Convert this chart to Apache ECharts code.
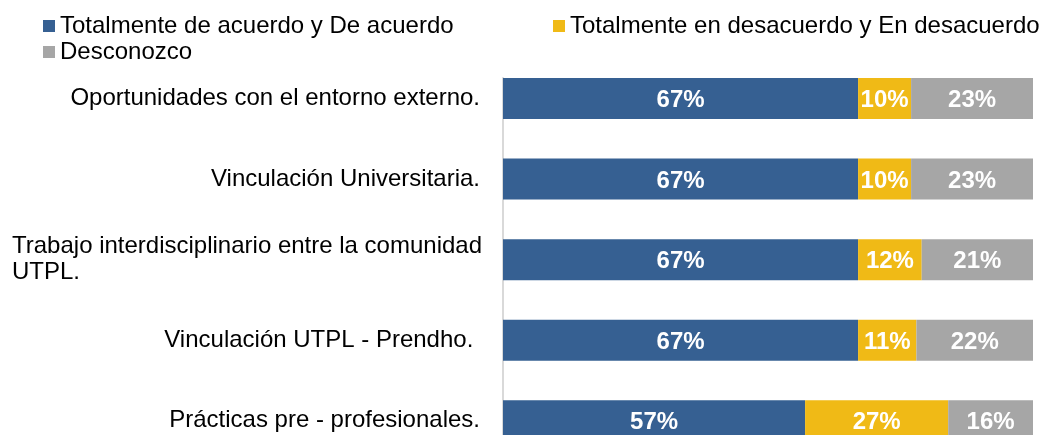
<!DOCTYPE html>
<html>
<head>
<meta charset="utf-8">
<script src="https://cdn.jsdelivr.net/npm/echarts@6/dist/echarts.min.js"></script>
<style>
html,body{margin:0;padding:0;background:#fff;overflow:hidden;}
#wrap{width:1045px;height:435px;overflow:hidden;}
#chart{width:1045px;height:461px;}
</style>
</head>
<body>
<div id="wrap"><div id="chart"></div></div>
<script>
const categories = [
  "Oportunidades con el entorno externo.",
  "Vinculación Universitaria.",
  "Trabajo interdisciplinario entre la comunidad\nUTPL.",
  "Vinculación UTPL - Prendho. ",
  "Prácticas pre - profesionales."
];
const seriesNames = [
  "Totalmente de acuerdo y De acuerdo",
  "Totalmente en desacuerdo y En desacuerdo",
  "Desconozco"
];
const acuerdo = [67, 67, 67, 67, 57];
const desacuerdo = [10, 10, 12, 11, 27];
const desconozco = [23, 23, 21, 22, 16];
const colors = ["#366092", "#F0BA16", "#A6A6A6"];

const FONT = "Liberation Sans, Arial, sans-serif";
const chart = echarts.init(document.getElementById('chart'), null, {renderer: 'canvas'});

const labelStyle = {
  show: true,
  position: 'inside',
  formatter: '{c}%',
  color: '#fff',
  fontWeight: 'bold',
  fontFamily: FONT,
  fontSize: 24,
  offset: [0, 2]
};

function mkSeries(name, data, color) {
  return {
    name: name,
    type: 'bar',
    stack: 'total',
    data: data,
    barWidth: 41,
    itemStyle: {color: color},
    label: labelStyle,
    xAxisIndex: 0,
    yAxisIndex: 0
  };
}

const legendText = {fontFamily: FONT, fontSize: 24, color: '#000'};
const legendCommon = {
  padding: 0, itemWidth: 12, itemHeight: 12, icon: 'rect',
  textStyle: legendText, selectedMode: false
};

chart.setOption({
  animation: false,
  color: colors,
  legend: [
    Object.assign({data: [seriesNames[0]], left: 43, top: 14}, legendCommon),
    Object.assign({data: [seriesNames[1]], left: 553, top: 14}, legendCommon),
    Object.assign({data: [seriesNames[2]], left: 43, top: 40}, legendCommon)
  ],
  grid: [
    {left: 503, right: 12, top: 58.25, bottom: 0},
    {left: 503, right: 12, top: 78, bottom: 0}
  ],
  xAxis: [
    {type: 'value', min: 0, max: 100, show: false, gridIndex: 0},
    {type: 'value', min: 0, max: 100, show: false, gridIndex: 1}
  ],
  yAxis: [
    {
      type: 'category', data: categories, inverse: true, gridIndex: 0,
      axisLine: {show: false}, axisTick: {show: false}, splitLine: {show: false},
      axisLabel: {
        margin: 23, color: '#000', fontFamily: FONT, fontSize: 24,
        formatter: function (v) {
          if (v.indexOf('\n') >= 0) {
            return v.split('\n').map(function (s) { return '{l|' + s + '}'; }).join('\n');
          }
          return v;
        },
        rich: {
          l: {width: 468, align: 'left', fontFamily: FONT, fontSize: 24, color: '#000', lineHeight: 26}
        }
      }
    },
    {
      type: 'value', gridIndex: 1, min: 0, max: 1,
      axisLine: {show: true, lineStyle: {color: '#D9D9D9', width: 2}},
      axisTick: {show: false}, axisLabel: {show: false}, splitLine: {show: false}
    }
  ],
  series: [
    mkSeries(seriesNames[0], acuerdo, colors[0]),
    mkSeries(seriesNames[1], desacuerdo, colors[1]),
    mkSeries(seriesNames[2], desconozco, colors[2])
  ]
});
</script>
</body>
</html>
